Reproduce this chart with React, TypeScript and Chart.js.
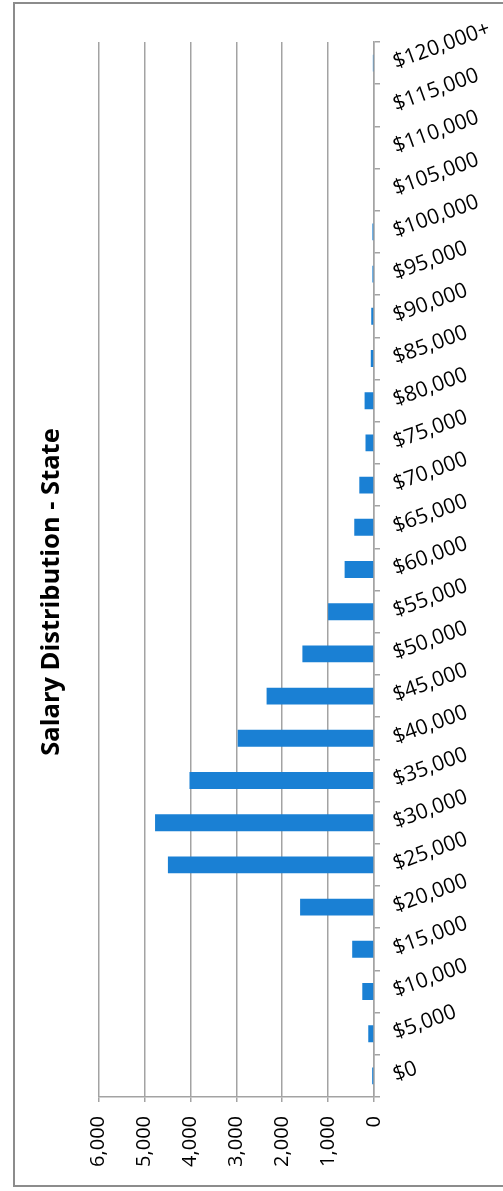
import React, { useEffect, useRef } from "react";
import { Chart, registerables } from "chart.js";

Chart.register(...registerables);

const categories = [
  "$0", "$5,000", "$10,000", "$15,000", "$20,000", "$25,000", "$30,000",
  "$35,000", "$40,000", "$45,000", "$50,000", "$55,000", "$60,000",
  "$65,000", "$70,000", "$75,000", "$80,000", "$85,000", "$90,000",
  "$95,000", "$100,000", "$105,000", "$110,000", "$115,000", "$120,000+",
];

const counts = [
  40, 125, 255, 475, 1610, 4490, 4770, 4020, 2970, 2340, 1560, 1000, 640,
  430, 320, 185, 205, 70, 60, 35, 35, 0, 0, 0, 25,
];

const valueTicks = [0, 1000, 2000, 3000, 4000, 5000, 6000];

const titleText = "Salary Distribution - State";

export default function App() {
  const ref = useRef<HTMLCanvasElement | null>(null);

  useEffect(() => {
    if (!ref.current) return;
    const font = "'Open Sans', 'DejaVu Sans', sans-serif";
    const chart = new Chart(ref.current, {
      type: "bar",
      data: {
        labels: categories,
        datasets: [
          {
            data: counts,
            backgroundColor: "#1a80d4",
            borderWidth: 0,
            barPercentage: 0.4,
            categoryPercentage: 1.0,
          },
        ],
      },
      options: {
        indexAxis: "y",
        responsive: false,
        animation: false,
        devicePixelRatio: 1,
        layout: { padding: { left: 26, top: 0, right: 0, bottom: 7 } },
        plugins: {
          legend: { display: false },
          tooltip: { enabled: false },
          title: {
            display: true,
            text: titleText,
            position: "left",
            color: "#000",
            font: { family: font, size: 25.5, weight: "bold" },
            padding: { top: 10, bottom: 32 },
          },
        },
        scales: {
          x: {
            type: "linear",
            position: "bottom",
            reverse: true,
            min: valueTicks[0],
            max: valueTicks[valueTicks.length - 1],
            afterBuildTicks: (scale: any) => {
              scale.ticks = valueTicks.map((v) => ({ value: v }));
            },
            afterFit: (scale: any) => {
              scale.height = 87;
            },
            ticks: {
              minRotation: 90,
              maxRotation: 90,
              padding: 14,
              color: "#000",
              font: { family: font, size: 20 },
              callback: (v: any) => Number(v).toLocaleString("en-US"),
            },
            grid: {
              color: "#a3a3a3",
              lineWidth: 1.5,
              tickLength: 5,
              drawTicks: true,
            },
            border: { color: "#a3a3a3", width: 1.5 },
          },
          y: {
            type: "category",
            position: "right",
            reverse: true,
            afterFit: (scale: any) => {
              scale.width = 129;
              scale.paddingTop = 42;
              scale.paddingBottom = 0;
            },
            ticks: {
              minRotation: 20,
              maxRotation: 20,
              padding: 14,
              autoSkip: false,
              color: "#000",
              font: { family: font, size: 21 },
            },
            grid: {
              drawOnChartArea: false,
              drawTicks: true,
              tickLength: 6,
              color: "#a3a3a3",
              lineWidth: 1.5,
            },
            border: { color: "#a3a3a3", width: 1.5 },
          },
        },
      },
    });
    return () => chart.destroy();
  }, []);

  return (
    <div
      style={{
        position: "fixed",
        left: 0,
        top: 0,
        width: 503,
        height: 1191,
        background: "#fff",
        overflow: "hidden",
      }}
    >
      <div
        style={{
          position: "absolute",
          left: 13,
          top: 2,
          width: 500,
          height: 1185,
          border: "2px solid #8c8c8c",
          boxSizing: "border-box",
        }}
      />
      <canvas
        ref={ref}
        width={503}
        height={1191}
        style={{ position: "absolute", left: 0, top: 0, width: 503, height: 1191 }}
      />
    </div>
  );
}
